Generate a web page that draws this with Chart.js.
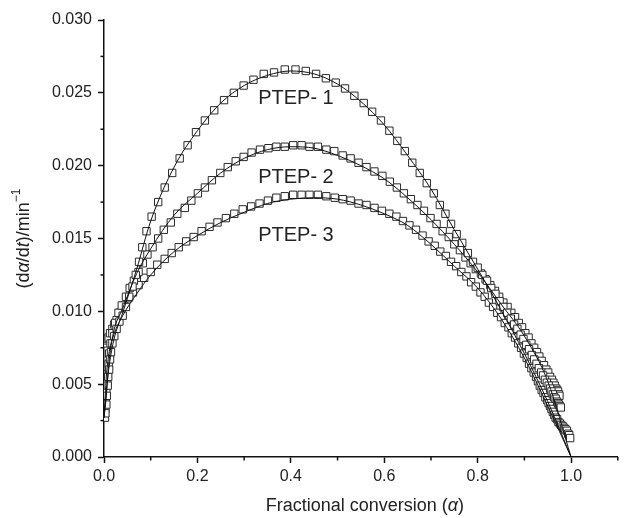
<!DOCTYPE html>
<html>
<head>
<meta charset="utf-8">
<script src="https://cdn.jsdelivr.net/npm/chart.js@4.4.1/dist/chart.umd.min.js"></script>
<style>
  html, body { margin: 0; padding: 0; background: #fff; }
</style>
</head>
<body>
<canvas id="chart" width="624" height="518"></canvas>
<script>
const s1X = [0.003, 0.005, 0.006, 0.008, 0.009, 0.011, 0.013, 0.015, 0.018, 0.022, 0.027, 0.033, 0.040, 0.047, 0.054, 0.061, 0.068, 0.075, 0.082, 0.091, 0.102, 0.116, 0.130, 0.146, 0.162, 0.179, 0.197, 0.216, 0.236, 0.257, 0.278, 0.299, 0.320, 0.342, 0.364, 0.387, 0.410, 0.432, 0.454, 0.475, 0.496, 0.516, 0.536, 0.556, 0.574, 0.593, 0.611, 0.628, 0.644, 0.660, 0.676, 0.691, 0.706, 0.719, 0.731, 0.743, 0.755, 0.767, 0.779, 0.790, 0.800, 0.810, 0.820, 0.829, 0.838, 0.847, 0.855, 0.863, 0.871, 0.878, 0.885, 0.892, 0.898, 0.904, 0.910, 0.916, 0.921, 0.926, 0.931, 0.936, 0.940, 0.944, 0.948, 0.952, 0.955, 0.958, 0.961, 0.964, 0.967, 0.970, 0.972, 0.974, 0.976, 0.978];
const s1Y = [0.0030, 0.0036, 0.0042, 0.0049, 0.0055, 0.0060, 0.0067, 0.0072, 0.0078, 0.0083, 0.0088, 0.0093, 0.0097, 0.0103, 0.0110, 0.0117, 0.0125, 0.0134, 0.0144, 0.0155, 0.0165, 0.0175, 0.0185, 0.0195, 0.0205, 0.0214, 0.0223, 0.0231, 0.0238, 0.0245, 0.0250, 0.0255, 0.0259, 0.0263, 0.0264, 0.0266, 0.0266, 0.0265, 0.0263, 0.0260, 0.0257, 0.0253, 0.0248, 0.0243, 0.0237, 0.0231, 0.0224, 0.0217, 0.0210, 0.0202, 0.0195, 0.0188, 0.0181, 0.0173, 0.0167, 0.0160, 0.0153, 0.0147, 0.0140, 0.0134, 0.0130, 0.0125, 0.0121, 0.0116, 0.0112, 0.0107, 0.0103, 0.0099, 0.0095, 0.0091, 0.0088, 0.0084, 0.0081, 0.0077, 0.0074, 0.0070, 0.0067, 0.0064, 0.0061, 0.0058, 0.0056, 0.0053, 0.0051, 0.0049, 0.0047, 0.0045, 0.0043, 0.0041, 0.0040, 0.0038, 0.0037, 0.0036, 0.0035, 0.0034];

const s2X = [0.002, 0.003, 0.004, 0.005, 0.007, 0.008, 0.010, 0.011, 0.014, 0.018, 0.024, 0.031, 0.038, 0.047, 0.055, 0.064, 0.074, 0.083, 0.093, 0.104, 0.116, 0.128, 0.143, 0.157, 0.173, 0.187, 0.201, 0.216, 0.231, 0.249, 0.265, 0.282, 0.299, 0.316, 0.334, 0.352, 0.369, 0.387, 0.405, 0.423, 0.440, 0.458, 0.476, 0.493, 0.511, 0.528, 0.545, 0.562, 0.579, 0.596, 0.612, 0.627, 0.642, 0.657, 0.671, 0.685, 0.699, 0.712, 0.725, 0.738, 0.750, 0.762, 0.774, 0.785, 0.796, 0.807, 0.817, 0.827, 0.837, 0.846, 0.855, 0.864, 0.872, 0.880, 0.888, 0.895, 0.902, 0.909, 0.915, 0.921, 0.927, 0.932, 0.937, 0.942, 0.947, 0.951, 0.955, 0.959, 0.962, 0.965, 0.968, 0.970, 0.972, 0.974, 0.975];
const s2Y = [0.0027, 0.0033, 0.0039, 0.0045, 0.0051, 0.0057, 0.0064, 0.0071, 0.0078, 0.0085, 0.0092, 0.0099, 0.0104, 0.0110, 0.0116, 0.0121, 0.0127, 0.0133, 0.0139, 0.0144, 0.0150, 0.0156, 0.0161, 0.0167, 0.0171, 0.0176, 0.0181, 0.0185, 0.0190, 0.0195, 0.0199, 0.0203, 0.0206, 0.0209, 0.0211, 0.0212, 0.0213, 0.0213, 0.0214, 0.0214, 0.0213, 0.0213, 0.0211, 0.0210, 0.0207, 0.0205, 0.0202, 0.0199, 0.0196, 0.0193, 0.0189, 0.0185, 0.0181, 0.0177, 0.0173, 0.0169, 0.0164, 0.0160, 0.0155, 0.0151, 0.0146, 0.0142, 0.0137, 0.0133, 0.0129, 0.0126, 0.0122, 0.0118, 0.0114, 0.0110, 0.0106, 0.0103, 0.0099, 0.0096, 0.0092, 0.0089, 0.0085, 0.0082, 0.0078, 0.0075, 0.0072, 0.0069, 0.0066, 0.0063, 0.0060, 0.0058, 0.0055, 0.0053, 0.0051, 0.0049, 0.0047, 0.0046, 0.0045, 0.0043, 0.0042];

const s3X = [0.004, 0.006, 0.008, 0.010, 0.013, 0.018, 0.022, 0.027, 0.034, 0.043, 0.052, 0.062, 0.074, 0.086, 0.100, 0.114, 0.130, 0.145, 0.160, 0.176, 0.192, 0.209, 0.226, 0.243, 0.261, 0.279, 0.297, 0.315, 0.333, 0.351, 0.369, 0.387, 0.405, 0.423, 0.440, 0.458, 0.476, 0.494, 0.511, 0.528, 0.545, 0.562, 0.579, 0.595, 0.611, 0.626, 0.640, 0.654, 0.668, 0.682, 0.695, 0.708, 0.720, 0.732, 0.743, 0.754, 0.765, 0.776, 0.786, 0.796, 0.806, 0.815, 0.824, 0.833, 0.842, 0.850, 0.858, 0.866, 0.873, 0.880, 0.887, 0.893, 0.899, 0.905, 0.910, 0.915, 0.920, 0.925, 0.929, 0.933, 0.937, 0.941, 0.945, 0.949, 0.952, 0.955, 0.958, 0.961, 0.964, 0.967, 0.970, 0.973, 0.976, 0.979, 0.982, 0.985, 0.988, 0.991, 0.994, 0.996, 0.998];
const s3Y = [0.0078, 0.0080, 0.0081, 0.0082, 0.0085, 0.0088, 0.0091, 0.0094, 0.0099, 0.0104, 0.0109, 0.0113, 0.0118, 0.0123, 0.0127, 0.0132, 0.0136, 0.0140, 0.0144, 0.0148, 0.0151, 0.0155, 0.0158, 0.0161, 0.0164, 0.0167, 0.0170, 0.0172, 0.0174, 0.0176, 0.0178, 0.0179, 0.0180, 0.0180, 0.0180, 0.0180, 0.0179, 0.0178, 0.0177, 0.0176, 0.0174, 0.0173, 0.0171, 0.0169, 0.0167, 0.0165, 0.0162, 0.0159, 0.0156, 0.0152, 0.0148, 0.0145, 0.0141, 0.0138, 0.0134, 0.0131, 0.0127, 0.0124, 0.0120, 0.0117, 0.0113, 0.0110, 0.0106, 0.0103, 0.0099, 0.0096, 0.0092, 0.0089, 0.0085, 0.0082, 0.0078, 0.0075, 0.0071, 0.0068, 0.0064, 0.0061, 0.0058, 0.0055, 0.0052, 0.0049, 0.0046, 0.0044, 0.0041, 0.0039, 0.0037, 0.0035, 0.0033, 0.0031, 0.0029, 0.0027, 0.0026, 0.0024, 0.0023, 0.0022, 0.0021, 0.0020, 0.0019, 0.0018, 0.0016, 0.0015, 0.0013];

// fitted model curves (thin lines)
const fitX  = [0, 0.005, 0.01, 0.02, 0.04, 0.07, 0.1, 0.15, 0.2, 0.25, 0.3, 0.35, 0.4, 0.45, 0.5, 0.55, 0.6, 0.65, 0.7, 0.75, 0.8, 0.85, 0.9, 0.95, 1.0];
const fit1Y = [0.0027, 0.0045, 0.0060, 0.0079, 0.0099, 0.0129, 0.0162, 0.0199, 0.0224, 0.0243, 0.0255, 0.0262, 0.0265, 0.0263, 0.0256, 0.0244, 0.0228, 0.0207, 0.0184, 0.0156, 0.0129, 0.0101, 0.0071, 0.0038, 0.0];
const fit2Y = [0.0027, 0.0042, 0.0063, 0.0085, 0.0102, 0.0126, 0.0143, 0.0166, 0.0181, 0.0195, 0.0205, 0.0211, 0.0213, 0.0212, 0.0207, 0.0200, 0.0191, 0.0178, 0.0163, 0.0146, 0.0127, 0.0105, 0.0083, 0.0052, 0.0];
const fit3Y = [0.0027, 0.0055, 0.0070, 0.0083, 0.0097, 0.0112, 0.0125, 0.0141, 0.0152, 0.0161, 0.0168, 0.0174, 0.0177, 0.0178, 0.0177, 0.0173, 0.0167, 0.0159, 0.0146, 0.0131, 0.0116, 0.0095, 0.0068, 0.0035, 0.0];

// curve labels, in data coordinates
const labelText = ["PTEP- 1", "PTEP- 2", "PTEP- 3"];
const labelX = [0.330, 0.330, 0.330];
const labelY = [0.0246, 0.0192, 0.0152];

const toPts = (xs, ys) => xs.map((x, i) => ({ x: x, y: ys[i] }));

const FONT = '"Liberation Sans", Arial, Helvetica, sans-serif';

function squares(xs, ys) {
  return {
    type: "scatter",
    data: toPts(xs, ys),
    showLine: false,
    pointStyle: "rect",
    pointRadius: 5.2,
    pointBorderWidth: 1,
    pointBorderColor: "#2a2a2a",
    pointBackgroundColor: "#fff",
    order: 2
  };
}

function fitLine(ys) {
  return {
    type: "line",
    data: toPts(fitX, ys),
    showLine: true,
    borderColor: "#111",
    borderWidth: 1,
    pointRadius: 0,
    fill: false,
    cubicInterpolationMode: "monotone",
    order: 1
  };
}

// minor ticks + titles + curve labels
const extras = {
  id: "extras",
  afterDraw(chart) {
    const ctx = chart.ctx;
    const xs = chart.scales.x, ys = chart.scales.y;
    ctx.save();
    ctx.strokeStyle = "#111";
    ctx.lineWidth = 1.5;
    // minor ticks
    xs.ticks.forEach(t => {
      if (Math.round(t.value * 10) % 2 !== 0) {
        const px = xs.getPixelForValue(t.value);
        ctx.beginPath();
        ctx.moveTo(px, xs.top);
        ctx.lineTo(px, xs.top + 3.5);
        ctx.stroke();
      }
    });
    ys.ticks.forEach(t => {
      if (Math.round(t.value / 0.0025) % 2 !== 0) {
        const py = ys.getPixelForValue(t.value);
        ctx.beginPath();
        ctx.moveTo(ys.right, py);
        ctx.lineTo(ys.right - 3.5, py);
        ctx.stroke();
      }
    });

    ctx.fillStyle = "#222";
    ctx.textBaseline = "middle";

    // curve labels
    ctx.font = "20px " + FONT;
    ctx.textAlign = "left";
    labelText.forEach((s, i) => {
      ctx.fillText(s, xs.getPixelForValue(labelX[i]), ys.getPixelForValue(labelY[i]));
    });

    // rich titles
    function drawRich(parts, cx, cy) {
      let w = 0;
      parts.forEach(p => { ctx.font = p.font; p.w = ctx.measureText(p.t).width; w += p.w; });
      let x = cx - w / 2;
      ctx.textAlign = "left";
      parts.forEach(p => {
        ctx.font = p.font;
        ctx.fillText(p.t, x, cy + (p.dy || 0));
        x += p.w;
      });
    }
    const n = "18px " + FONT, it = "italic 18px " + FONT, sup = "12px " + FONT;

    drawRich([
      { t: "Fractional conversion (", font: n },
      { t: "\u03b1", font: it },
      { t: ")", font: n }
    ], (chart.chartArea.left + chart.chartArea.right) / 2 + 4, 506);

    ctx.save();
    ctx.translate(24, (chart.chartArea.top + chart.chartArea.bottom) / 2);
    ctx.rotate(-Math.PI / 2);
    drawRich([
      { t: "(d", font: n },
      { t: "\u03b1", font: it },
      { t: "/d", font: n },
      { t: "t", font: it },
      { t: ")/min", font: n },
      { t: "\u22121", font: sup, dy: -7 }
    ], 0, 0);
    ctx.restore();
    ctx.restore();
  }
};

new Chart(document.getElementById("chart").getContext("2d"), {
  data: {
    datasets: [
      fitLine(fit1Y), fitLine(fit2Y), fitLine(fit3Y),
      squares(s1X, s1Y), squares(s2X, s2Y), squares(s3X, s3Y)
    ]
  },
  options: {
    responsive: false,
    animation: false,
    layout: { padding: { top: 20, right: 2, left: 0, bottom: 0 } },
    plugins: {
      legend: { display: false },
      tooltip: { enabled: false }
    },
    scales: {
      x: {
        type: "linear",
        min: 0,
        max: 1.1,
        afterFit: s => { s.height = 61; },
        ticks: {
          stepSize: 0.1,
          autoSkip: false,
          maxRotation: 0,
          color: "#222",
          padding: 4,
          font: { family: FONT, size: 16 },
          callback: v => (Math.round(v * 10) % 2 === 0 && v < 1.05) ? v.toFixed(1) : ""
        },
        grid: {
          drawOnChartArea: false,
          tickLength: 6,
          tickWidth: 1.5,
          tickColor: c => (c.tick && Math.round(c.tick.value * 10) % 2 === 0) ? "#111" : "rgba(0,0,0,0)"
        },
        border: { color: "#111", width: 1.5 }
      },
      y: {
        type: "linear",
        min: 0,
        max: 0.03,
        afterFit: s => { s.width = 104; },
        ticks: {
          stepSize: 0.0025,
          autoSkip: false,
          color: "#222",
          padding: 6,
          font: { family: FONT, size: 16 },
          callback: v => (Math.round(v / 0.0025) % 2 === 0) ? v.toFixed(3) : ""
        },
        grid: {
          drawOnChartArea: false,
          tickLength: 6,
          tickWidth: 1.5,
          tickColor: c => (c.tick && Math.round(c.tick.value / 0.0025) % 2 === 0) ? "#111" : "rgba(0,0,0,0)"
        },
        border: { color: "#111", width: 1.5 }
      }
    }
  },
  plugins: [extras]
});
</script>
</body>
</html>
